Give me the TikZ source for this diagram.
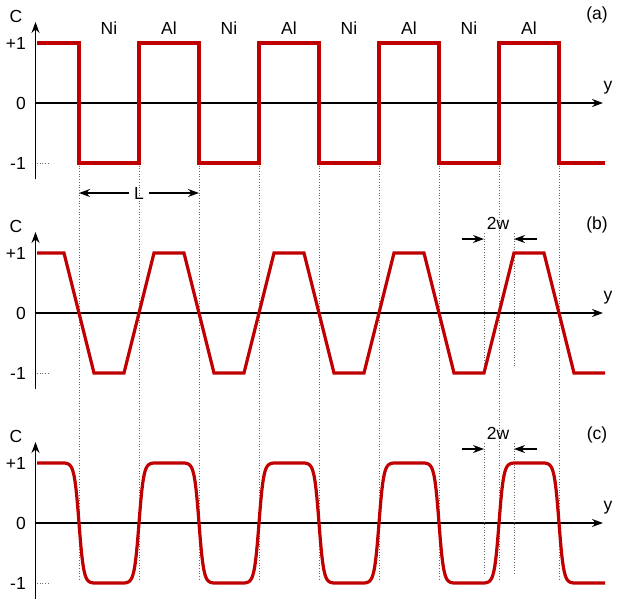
\documentclass[tikz,border=0pt]{standalone}
\usepackage{fontspec}
\setmainfont{Liberation Sans}
\usetikzlibrary{arrows.meta}
\definecolor{profred}{RGB}{192,0,0}
\tikzset{
    profile/.style={profred, line width=3.2pt, line join=miter},
    guide/.style={gray!80!black, line width=0.7pt, dotted},
    axis/.style={line width=1.3pt, -{Stealth[length=11pt,width=8pt]}},
    dim/.style={line width=1.3pt, -{Stealth[length=11pt,width=8pt]}},
    lbl/.style={font=\fontsize{17.5}{20}\selectfont, inner sep=0pt},
}

\begin{document}
\begin{tikzpicture}[x=1pt, y=1pt]
    \useasboundingbox (0,0) rectangle (620,602);

    % interface lines through all three panels
    \foreach \k in {0,...,8}
        \draw[guide] ({79+60*\k},439) -- ({79+60*\k},22);

    % axes and tick labels of each panel
    \foreach \p/\z in {a/499,b/289,c/79} {
        \begin{scope}[yshift=\z pt, y=60pt]
            \coordinate (cb\p) at (35.5,-1.27);
            \coordinate (ct\p) at (35.5,1.35);
            \coordinate (yb\p) at (35.5,0);
            \coordinate (ye\p) at (603,0);
            \draw[axis] (cb\p) -- (ct\p);
            \draw[axis] (yb\p) -- (ye\p);
            \draw[guide] (37,-1) -- (50,-1);

            \node[lbl] (C\p) at (16,1.44) {C};
            \node[lbl, anchor=east] (p\p) at (26,1) {+1};
            \node[lbl, anchor=east] (z\p) at (26,0) {0};
            \node[lbl, anchor=east] (m\p) at (26,-1) {-1};
            \node[lbl] (tag\p) at (597,1.46) {(\p)};
            \node[lbl] (y\p) at (608,0.26) {y};
        \end{scope}
    }

    % (a) square profile
    \begin{scope}[yshift=499pt, y=60pt]
        \foreach \k/\m in {0/Ni,1/Al,2/Ni,3/Al,4/Ni,5/Al,6/Ni,7/Al}
            \node[lbl] (lay\k) at ({109+60*\k},1.24) {\m};

        \coordinate (La) at (79,-1.5);
        \coordinate (Lb) at (199,-1.5);
        \node[lbl, inner sep=5pt] (Lt) at (139,-1.5) {L};
        \draw[dim] (Lt) -- (La);
        \draw[dim] (Lt) -- (Lb);

        \draw[profile] (37,1)
            \foreach \k [evaluate=\k as \s using {1-2*mod(\k,2)},
                         evaluate=\k as \t using {2*mod(\k,2)-1}] in {0,...,8} {
                -- ({79+60*\k},\s) -- ({79+60*\k},\t)
            } -- (605,-1);
    \end{scope}

    % (b) linear ramps
    \begin{scope}[yshift=289pt, y=60pt]
        \draw[guide] (484,1.33) -- (484,-1);
        \draw[guide] (514,1.33) -- (514,-0.9);
        \coordinate (wl) at (462,1.233);
        \coordinate (wla) at (484,1.233);
        \coordinate (wr) at (537,1.233);
        \coordinate (wra) at (514,1.233);
        \draw[dim] (wl) -- (wla);
        \draw[dim] (wr) -- (wra);
        \node[lbl] (wb) at (498,1.49) {2w};

        \draw[profile] (37,1)
            \foreach \k [evaluate=\k as \s using {1-2*mod(\k,2)},
                         evaluate=\k as \t using {2*mod(\k,2)-1}] in {0,...,8} {
                -- ({64+60*\k},\s) -- ({94+60*\k},\t)
            } -- (605,-1);
    \end{scope}

    % (c) smooth profile
    \begin{scope}[yshift=79pt, y=60pt]
        \draw[guide] (484,1.33) -- (484,-0.87);
        \draw[guide] (514,1.33) -- (514,-0.87);
        \coordinate (vl) at (462,1.233);
        \coordinate (vla) at (484,1.233);
        \coordinate (vr) at (537,1.233);
        \coordinate (vra) at (514,1.233);
        \draw[dim] (vl) -- (vla);
        \draw[dim] (vr) -- (vra);
        \node[lbl] (wc) at (498,1.49) {2w};

        \draw[profile, line join=round] (37,1)
            \foreach \k [evaluate=\k as \s using {1-2*mod(\k,2)},
                         evaluate=\k as \t using {2*mod(\k,2)-1}] in {0,...,8} {
                -- ({64+60*\k},\s)
                -- plot[domain=-1:1, samples=61] ({79+60*\k+15*\x},{\t*tanh(3.2*\x)/tanh(3.2)})
            } -- (605,-1);
    \end{scope}
\end{tikzpicture}
\end{document}
